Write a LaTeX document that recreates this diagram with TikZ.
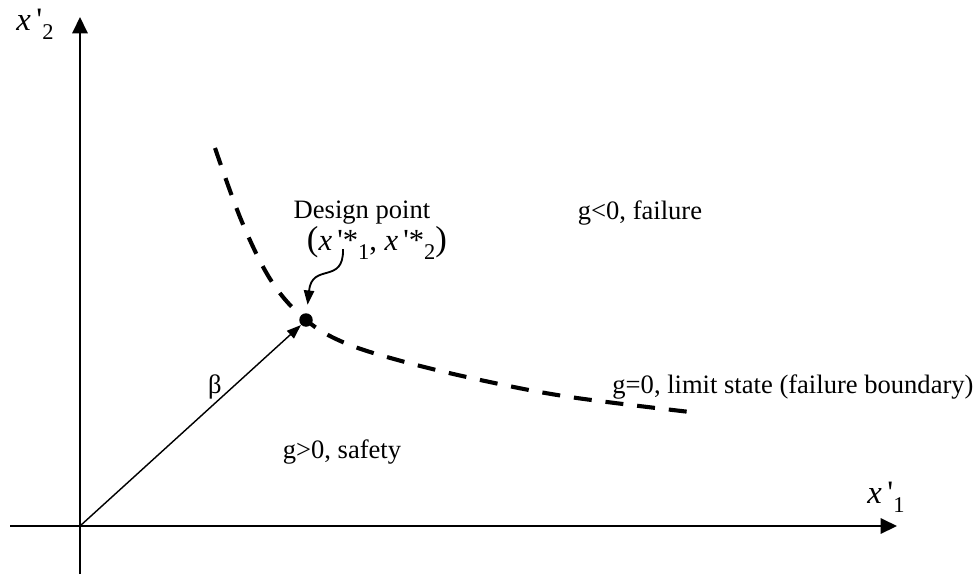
\documentclass[tikz,border=0pt]{standalone}
\usepackage{fontspec}
\setmainfont{Liberation Serif}
\usetikzlibrary{arrows.meta}

\newcommand{\xprime}[2]{\textit{x}\,\textquotesingle#1\raisebox{-0.6ex}{\fontsize{11}{12}\selectfont #2}}

\tikzset{
  lbl/.style={font=\fontsize{13}{15}\selectfont, inner sep=1pt},
  axlbl/.style={font=\fontsize{16}{18}\selectfont, inner sep=1pt},
  axis/.style={line width=1pt, -{Triangle[length=8pt,width=7.5pt]}},
  vec/.style={line width=0.7pt, -{Triangle[length=7pt,width=5pt]}},
  limit/.style={line width=2pt, dash pattern=on 8.8pt off 6.8pt}
}

\begin{document}
\begin{tikzpicture}[x=0.0172cm, y=-0.0172cm]
    \useasboundingbox (0,0) rectangle (975,575);
    % axes
    \coordinate (O) at (80,526);
    \coordinate (xs) at (10,526);
    \coordinate (xe) at (897,526);
    \coordinate (ys) at (80,574);
    \coordinate (ye) at (80,17);
    \draw[axis] (xs) -- (xe);
    \draw[axis] (ys) -- (ye);
    \node[axlbl] (x1) at (886,497) {\xprime{}{1}};
    \node[axlbl] (x2) at (35,24) {\xprime{}{2}};
    % limit state curve
    \draw[limit] plot[smooth, tension=0.6] coordinates
      {(215,148) (242,222) (272,282) (306,320) (345,343) (405,362) (485,381) (570,397) (690,412)};
    \node[circle, fill=black, inner sep=0pt, minimum size=6.6pt] (dp) at (306,320) {};
    % reliability index
    \draw[vec] (O) -- (dp.south west);
    \node[lbl] (beta) at (215,387) {β};
    % design point label
    \node[lbl] (dplbl) at (362,213) {Design point};
    \node[lbl, font=\fontsize{15}{17}\selectfont] (tuple) at (377,243)
      {{\fontsize{17}{17}\selectfont(}\xprime{*}{1}, \xprime{*}{2}{\fontsize{17}{17}\selectfont)}};
    \coordinate (cs) at (343,249);
    \draw[vec, line width=0.9pt, shorten >=4pt] (cs) .. controls (344,285) and (312,262) .. (dp);
    % regions
    \node[lbl] (fail) at (640,213) {g<0, failure};
    \node[lbl, anchor=west] (gzero) at (610,387) {g=0, limit state (failure boundary)};
    \node[lbl] (safe) at (342,452) {g>0, safety};
\end{tikzpicture}
\end{document}
